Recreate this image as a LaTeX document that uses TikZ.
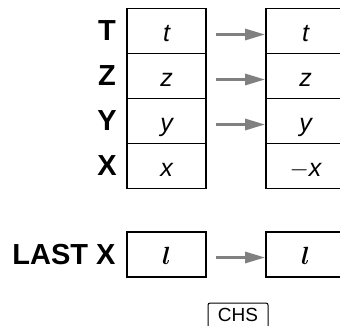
\documentclass[tikz,border=0pt]{standalone}
\usepackage{fontspec}
\setmainfont{Liberation Sans}
\usetikzlibrary{arrows.meta}

\tikzset{
  cell/.style={draw,line width=1.8pt,minimum width=79pt,minimum height=45pt,
    inner sep=0pt,text height=22pt,text depth=2pt,
    font=\fontsize{25}{25}\selectfont\itshape},
  reg/.style={font=\fontsize{29}{29}\selectfont\bfseries},
  move/.style={draw=gray,line width=3pt,-{Triangle[length=20pt,width=11pt]},
    shorten <=9pt}
}
\newcommand{\lastval}{{\fontsize{29}{29}\selectfont$\boldsymbol{l}$}}
\usepackage{amsmath}

\begin{document}
\begin{tikzpicture}[x=1pt,y=-1pt]
\clip (0,0) rectangle (340,325);

% register names
\node[reg] (nT) at (107,31) {T};
\node[reg] (nZ) at (107,76) {Z};
\node[reg] (nY) at (107,121) {Y};
\node[reg] (nX) at (107,166) {X};
\node[reg] (nL) at (64,254.5) {LAST X};

% stack before
\node[cell] (t1) at (166.5,31) {t};
\node[cell] (z1) at (166.5,76) {z};
\node[cell] (y1) at (166.5,121) {y};
\node[cell] (x1) at (166.5,166) {x};
\node[cell] (l1) at (166.5,254.5) {\lastval};

% stack after
\node[cell] (t2) at (305.5,31) {t};
\node[cell] (z2) at (305.5,76) {z};
\node[cell] (y2) at (305.5,121) {y};
\node[cell] (x2) at (305.5,166) {$-$x};
\node[cell] (l2) at (305.5,254.5) {\lastval};

\draw[move] ([yshift=-3.5pt]t1.east) -- ([yshift=-3.5pt]t2.west);
\draw[move] ([yshift=-3.5pt]z1.east) -- ([yshift=-3.5pt]z2.west);
\draw[move] ([yshift=-3.5pt]y1.east) -- ([yshift=-3.5pt]y2.west);
\draw[move] ([yshift=-3pt]l1.east) -- ([yshift=-3pt]l2.west);

% key
\node[font=\fontsize{19}{19}\selectfont,inner sep=0pt] (chs) at (238,315) {CHS};
\draw[line width=1pt,rounded corners=2pt]
  ([shift={(-30,-12)}]chs.center) rectangle ([shift={(30,20)}]chs.center);
\end{tikzpicture}
\end{document}
